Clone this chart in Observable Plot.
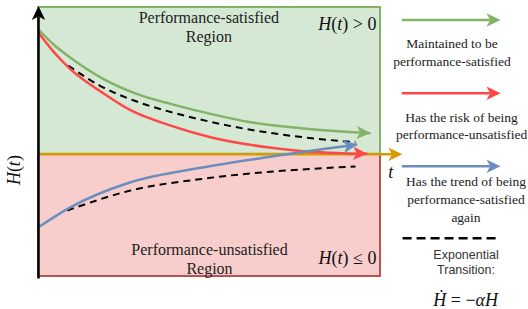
<!DOCTYPE html>
<html><head><meta charset="utf-8">
<script src="https://cdn.jsdelivr.net/npm/d3@7"></script>
<script src="https://cdn.jsdelivr.net/npm/@observablehq/plot@0.6"></script>
<style>body{margin:0;background:#fff} svg{display:block}</style>
</head><body><div id="chart"></div>
<script>
// ---- data (t, H(t)) ----
const greenT = [0, 0.45, 0.915, 1.89, 2.87, 3.86, 5.03, 6.20, 7.66, 9.21, 9.71];
const greenH = [1.02, 0.895, 0.793, 0.617, 0.494, 0.412, 0.330, 0.262, 0.213, 0.180, 0.172];
const redT = [0, 0.45, 0.915, 1.89, 2.69, 3.8, 5.03, 6.69, 7.66, 9.61];
const redH = [0.993, 0.835, 0.70, 0.50, 0.36, 0.24, 0.139, 0.057, 0.027, 0.003];
const blueT = [0, 0.94, 2.69, 4.74, 6.68, 9.32];
const blueH = [-0.597, -0.433, -0.229, -0.111, -0.025, 0.079];
const expUpperT = [0.87, 1.8, 2.83, 4.0, 5.03, 6.2, 7.7, 9.27];
const expUpperH = [0.725, 0.56, 0.435, 0.335, 0.265, 0.2, 0.14, 0.098];
const expLowerT = [0.84, 2.69, 5.03, 9.27];
const expLowerH = [-0.46, -0.297, -0.193, -0.1];
const regionLabels = ["Performance-satisfied\nRegion", "Performance-unsatisfied\nRegion"];
const conditionLabels = ["H(t) > 0", "H(t) ≤ 0"];
const legendLabels = ["Maintained to be\nperformance-satisfied", "Has the risk of being\nperformance-unsatisfied", "Has the trend of being\nperformance-satisfied\nagain"];
const expLabel = "Exponential\nTransition:";
const eqLabel = "Ḣ = −αH";
const axisLabels = ["H(t)", "t"];

// ---- layout / style ----
const W = 528, Hh = 309, mL = 38, mR = 148, mT = 7, mB = 33;
const tDom = [0, 10], hDom = [-1, 1.2];
const kx = (W - mL - mR) / (tDom[1] - tDom[0]);
const ky = (Hh - mT - mB) / (hDom[1] - hDom[0]);
const C = {green: "#82b366", red: "#ff4747", blue: "#6c8ebf", orange: "#d79b00",
  gFill: "#d5e8d4", pFill: "#f8cecc", pStroke: "#b85450"};
const zip = (T, H) => T.map((t, i) => ({t, h: H[i]}));
const ang = (T, H) => { const n = T.length; return Math.atan2(-(H[n-1]-H[n-2])*ky, (T[n-1]-T[n-2])*kx) * 180 / Math.PI; };
const arrowHead = {draw(ctx) { ctx.moveTo(0, 0); ctx.lineTo(-14, -6.7); ctx.lineTo(-10.5, 0); ctx.lineTo(-14, 6.7); ctx.closePath(); }};
const curve = "monotone-x";

// legend layout (data units)
const lx0 = 10.64, lx1 = 13.51;
const legY = [1.098, 0.499, -0.098];
const legTextX = [12.09, 12.37, 12.5];
const legTextY = [0.842, 0.241, -0.358];
const legColors = [C.green, C.red, C.blue];

const heads = [
  {t: greenT.at(-1), h: greenH.at(-1), a: ang(greenT, greenH), c: C.green},
  {t: redT.at(-1), h: redH.at(-1), a: ang(redT, redH), c: C.red},
  {t: blueT.at(-1), h: blueH.at(-1), a: ang(blueT, blueH), c: C.blue},
  {t: 10.64, h: 0, a: 0, c: C.orange},
  {t: 0, h: 1.212, a: -90, c: "#000"},
  ...legY.map((y, i) => ({t: lx1, h: y, a: 0, c: legColors[i]}))
];

const serif = "Liberation Serif, Times New Roman, serif";

const plot = Plot.plot({
  width: W, height: Hh, marginLeft: mL, marginRight: mR, marginTop: mT, marginBottom: mB,
  x: {domain: tDom, axis: null}, y: {domain: hDom, axis: null},
  color: {type: "identity"},
  style: {fontFamily: serif, background: "#fff", overflow: "visible"},
  marks: [
    Plot.rect([0], {x1: 0, x2: 10, y1: -1, y2: 0, fill: C.pFill, stroke: C.pStroke, strokeWidth: 2}),
    Plot.rect([0], {x1: 0, x2: 10, y1: 0, y2: 1.2, fill: C.gFill, stroke: C.green, strokeWidth: 2}),
    Plot.ruleY([0], {x1: 0, x2: 10.4, stroke: C.orange, strokeWidth: 2.5}),
    Plot.line(zip(expUpperT, expUpperH), {x: "t", y: "h", curve, stroke: "#000", strokeWidth: 2, strokeDasharray: "7,5", strokeLinecap: "butt"}),
    Plot.line(zip(expLowerT, expLowerH), {x: "t", y: "h", curve, stroke: "#000", strokeWidth: 2, strokeDasharray: "7,5", strokeLinecap: "butt"}),
    Plot.line(zip(greenT, greenH), {x: "t", y: "h", curve, stroke: C.green, strokeWidth: 2.5, strokeLinecap: "butt"}),
    Plot.line(zip(redT, redH), {x: "t", y: "h", curve, stroke: C.red, strokeWidth: 2.5, strokeLinecap: "butt"}),
    Plot.line(zip(blueT, blueH), {x: "t", y: "h", curve, stroke: C.blue, strokeWidth: 2.5, strokeLinecap: "butt"}),
    Plot.ruleX([0], {y1: -1.02, y2: 1.12, stroke: "#000", strokeWidth: 2.5}),
    // legend shafts
    Plot.ruleY(legY.map((y, i) => ({y, c: legColors[i]})), {y: "y", x1: lx0, x2: lx1 - 0.3, stroke: "c", strokeWidth: 2.5}),
    Plot.ruleY([-0.687], {x1: lx0 + 0.02, x2: lx1, stroke: "#000", strokeWidth: 2.5, strokeDasharray: "9,5"}),
    Plot.dot(heads, {x: "t", y: "h", rotate: "a", fill: "c", stroke: null, symbol: arrowHead, r: 5}),
    // texts
    Plot.text(regionLabels, {x: [4.98, 5.0], y: [1.046, -0.849], text: d => d, fontSize: 16, lineHeight: 1.2, fill: "#222", ariaLabel: "region"}),
    Plot.text(conditionLabels, {x: [9.88, 9.88], y: [1.061, -0.853], text: d => d, textAnchor: "end", fontSize: 18, fill: "#111"}),
    Plot.text(legendLabels, {x: legTextX, y: legTextY, text: d => d, fontSize: 13.5, lineHeight: 1.33, fill: "#222", ariaLabel: "legend"}),
    Plot.text([expLabel], {x: 12.5, y: -0.876, fontSize: 12.5, lineHeight: 1.22, fill: "#333", fontFamily: "Liberation Sans, Arial, sans-serif"}),
    Plot.text([eqLabel], {x: 12.49, y: -1.196, fontSize: 18, fill: "#111"}),
    Plot.text([axisLabels[0]], {x: -0.70, y: -0.13, rotate: -90, fontSize: 18, fill: "#111"}),
    Plot.text([axisLabels[1]], {x: 10.3, y: -0.147, fontSize: 18, fill: "#111"})
  ]
});
document.getElementById("chart").appendChild(plot);

d3.select(plot).selectAll("g[aria-label=region] text").style("letter-spacing", "0.6px");

// math styling: italic variables
const mathParts = {
  "H(t) > 0": [["H", 1], ["(", 0], ["t", 1], [")", 0], ["\u2005>\u20050", 0]],
  "H(t) ≤ 0": [["H", 1], ["(", 0], ["t", 1], [")", 0], ["\u2005≤\u20050", 0]],
  "H(t)": [["H", 1], ["(", 0], ["t", 1], [")", 0]],
  "t": [["t", 1]],
  "Ḣ = −αH": [["Ḣ", 1], [" = −", 0], ["α", 1], ["H", 1]]
};
d3.select(plot).selectAll("text").each(function() {
  const parts = mathParts[this.textContent];
  if (!parts || this.querySelector("tspan")) return;
  const el = d3.select(this);
  el.text("").style("white-space", "pre");
  for (const [s, it] of parts) el.append("tspan").text(s).attr("font-style", it ? "italic" : null);
});
</script></body></html>
